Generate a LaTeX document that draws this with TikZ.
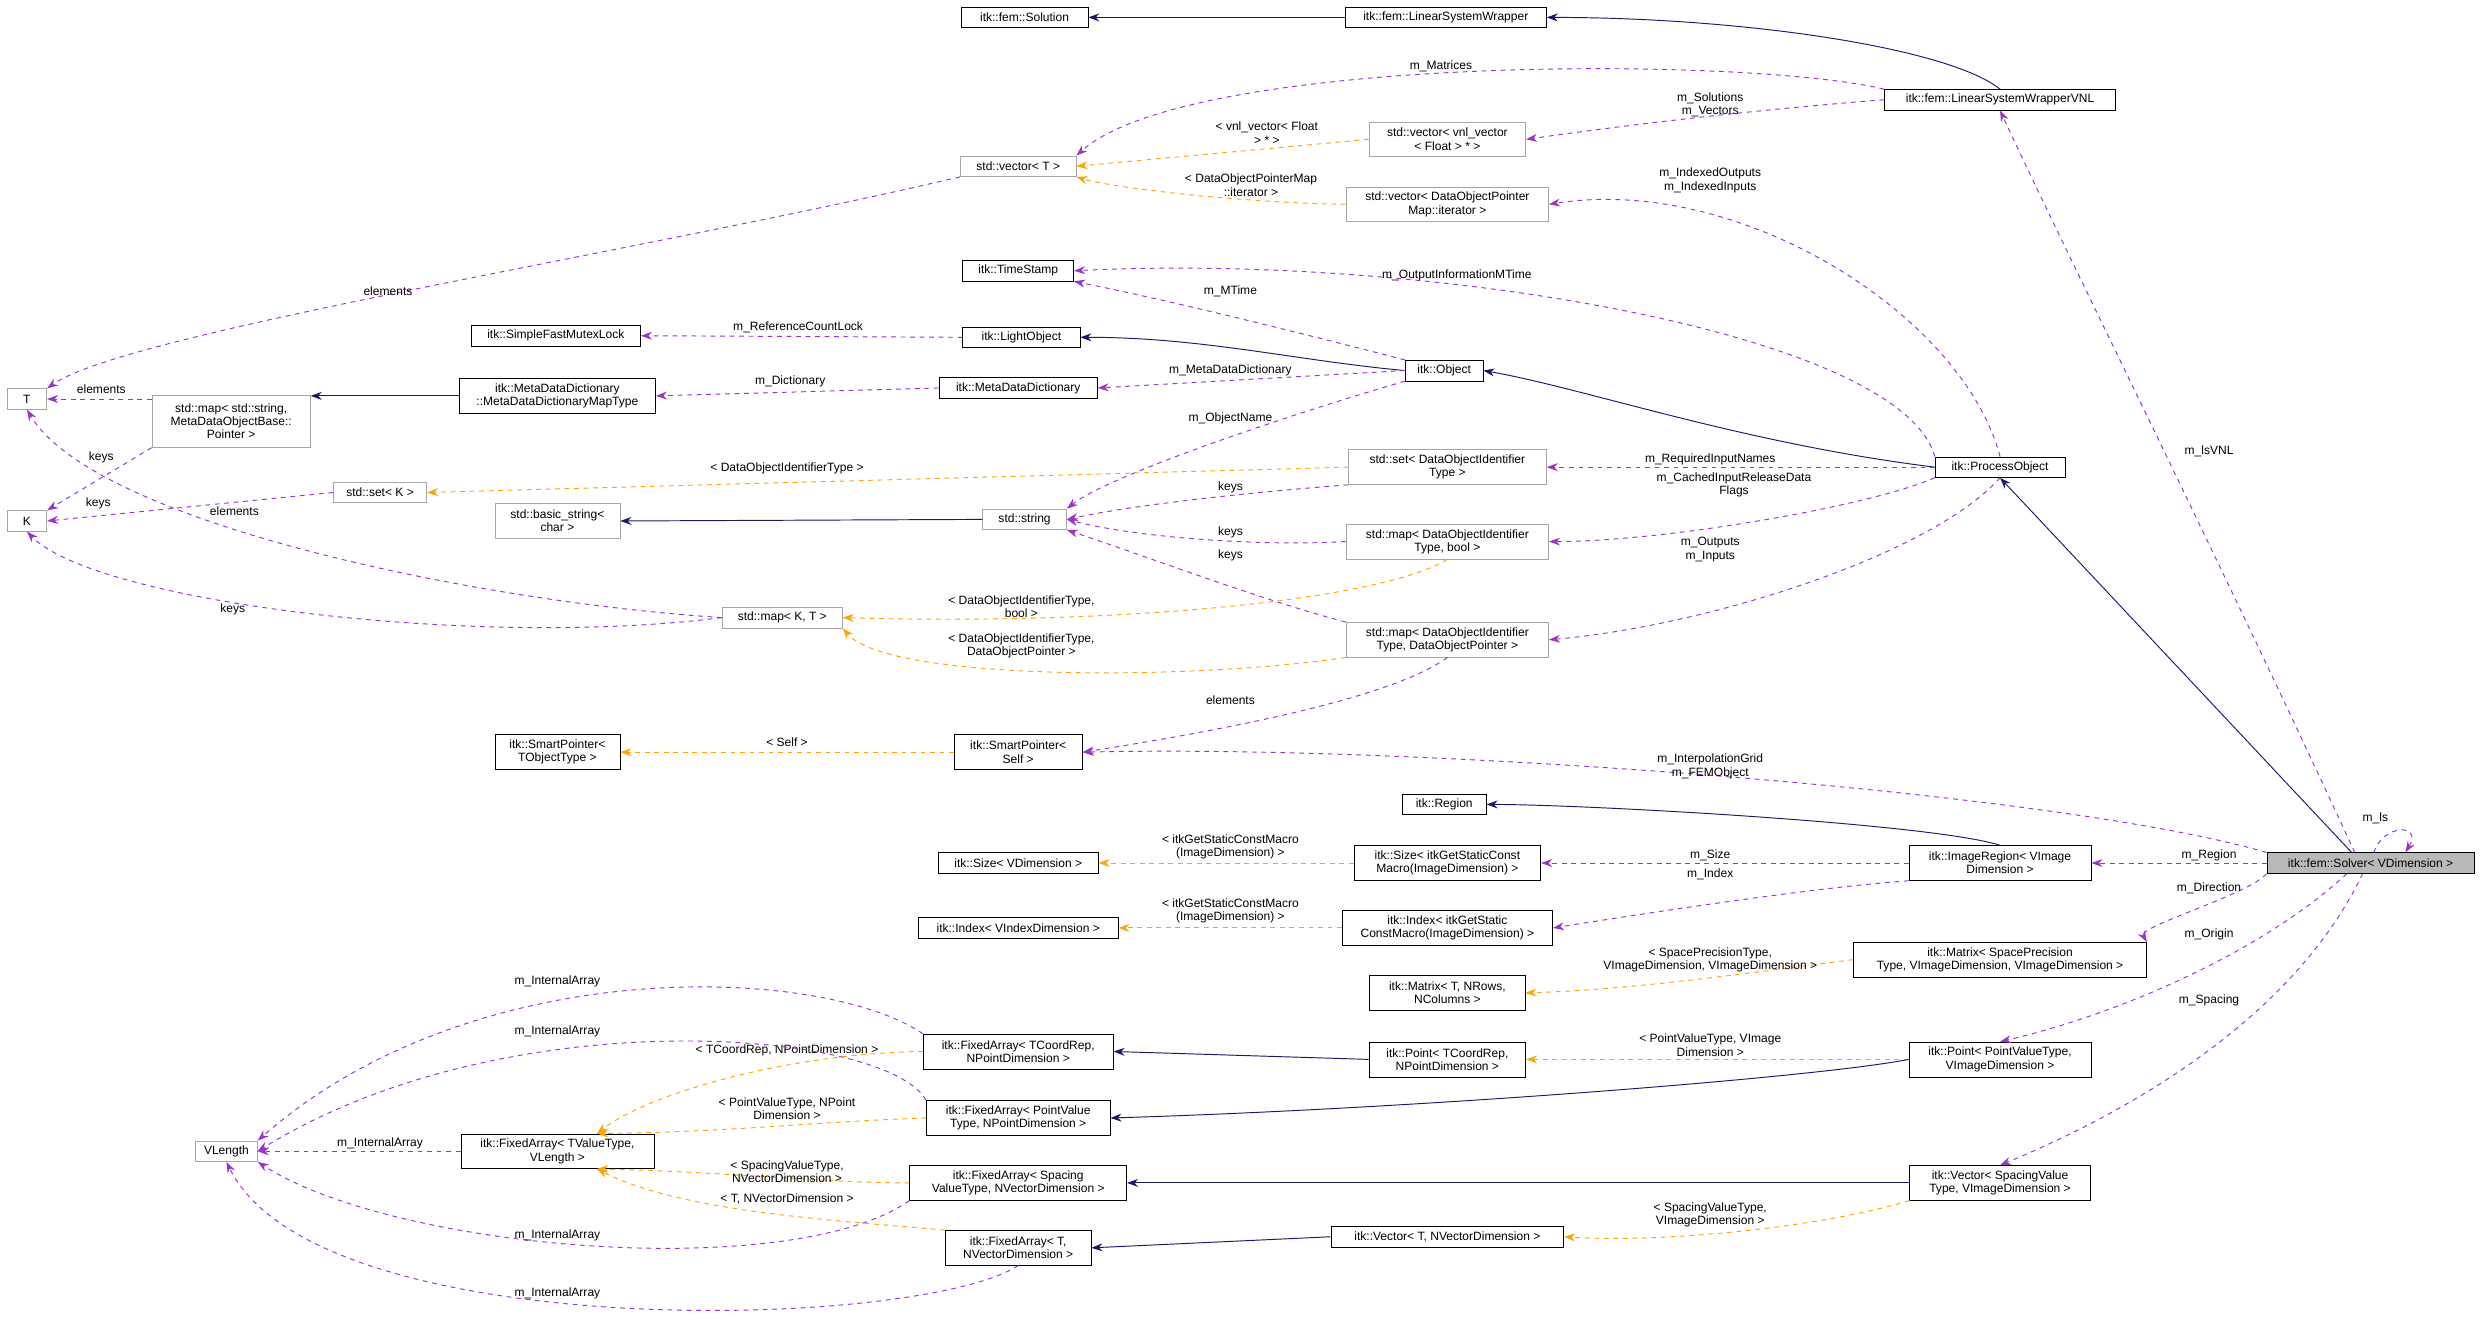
\documentclass[tikz,border=0pt]{standalone}
\usepackage{fontspec}
\setmainfont{Liberation Sans}
\usetikzlibrary{arrows.meta}
\definecolor{navy}{HTML}{191970}
\definecolor{purp}{HTML}{9A32CD}
\definecolor{orng}{HTML}{FFA500}
\begin{document}
\begin{tikzpicture}[x=1pt,y=-1pt,
 font=\fontsize{7.6}{8.4}\selectfont,
 cls/.style={draw=black,fill=white,inner sep=1.5pt,align=center,minimum height=13pt},
 ext/.style={cls,draw=gray!70},
 two/.style={minimum height=22pt},
 inh/.style={draw=navy,-{Stealth[length=7pt,width=5pt]},line width=0.6pt},
 use/.style={draw=purp,dashed,-{Stealth[length=7pt,width=5pt]},line width=0.6pt},
 tpl/.style={draw=orng,dashed,-{Stealth[length=7pt,width=5pt]},line width=0.6pt},
 lb/.style={align=center,inner sep=0pt}]
\useasboundingbox (0,0) rectangle (1568,842);
% nodes
\node[cls,minimum width=80] (sol) at (647,11) {itk::fem::Solution};
\node[cls,minimum width=127] (lsw) at (913,11) {itk::fem::LinearSystemWrapper};
\node[cls,minimum width=146] (lswv) at (1263,63) {itk::fem::LinearSystemWrapperVNL};
\node[ext,minimum width=73] (vecT) at (643,105) {std::vector< T >};
\node[ext,two,minimum width=99] (vecvnl) at (914,88) {std::vector< vnl\_vector\\< Float > * >};
\node[ext,two,minimum width=128] (vecdop) at (914,129) {std::vector< DataObjectPointer\\Map::iterator >};
\node[cls,minimum width=70] (ts) at (643,171) {itk::TimeStamp};
\node[cls,minimum width=107] (sfml) at (351,212) {itk::SimpleFastMutexLock};
\node[cls,minimum width=74] (lo) at (645,213) {itk::LightObject};
\node[ext,minimum width=25] (T) at (17,252) {T};
\node[ext,minimum width=100,minimum height=33] (mapstr) at (146,266) {std::map< std::string,\\MetaDataObjectBase::\\Pointer >};
\node[cls,two,minimum width=124] (mddmt) at (352,250) {itk::MetaDataDictionary\\::MetaDataDictionaryMapType};
\node[cls,minimum width=100] (mdd) at (643,245) {itk::MetaDataDictionary};
\node[cls,minimum width=49] (obj) at (912,234) {itk::Object};
\node[ext,two,minimum width=125] (setD) at (914,295) {std::set< DataObjectIdentifier\\Type >};
\node[cls,minimum width=82] (po) at (1263,295) {itk::ProcessObject};
\node[ext,minimum width=59] (setK) at (240,311) {std::set< K >};
\node[ext,minimum width=25] (K) at (17,329) {K};
\node[ext,two,minimum width=79] (bstr) at (352,329) {std::basic\_string<\\char >};
\node[ext,minimum width=53] (str) at (647,328) {std::string};
\node[ext,two,minimum width=128] (mapDb) at (914,342) {std::map< DataObjectIdentifier\\Type, bool >};
\node[ext,minimum width=76] (mapKT) at (494,390) {std::map< K, T >};
\node[ext,two,minimum width=128] (mapDp) at (914,404) {std::map< DataObjectIdentifier\\Type, DataObjectPointer >};
\node[cls,two,minimum width=79] (spTO) at (352,475) {itk::SmartPointer<\\TObjectType >};
\node[cls,two,minimum width=81] (spS) at (643,475) {itk::SmartPointer<\\Self >};
\node[cls,minimum width=53] (region) at (912,508) {itk::Region};
\node[cls,minimum width=101] (sizeV) at (643,545) {itk::Size< VDimension >};
\node[cls,two,minimum width=118] (sizeI) at (914,545) {itk::Size< itkGetStaticConst\\Macro(ImageDimension) >};
\node[cls,two,minimum width=115] (ir) at (1263,545) {itk::ImageRegion< VImage\\Dimension >};
\node[cls,fill=gray!55,minimum width=131] (solver) at (1497,545) {itk::fem::Solver< VDimension >};
\node[cls,minimum width=126] (indexV) at (643,586) {itk::Index< VIndexDimension >};
\node[cls,two,minimum width=133] (indexI) at (914,586) {itk::Index< itkGetStatic\\ConstMacro(ImageDimension) >};
\node[cls,two,minimum width=185] (mat) at (1263,606) {itk::Matrix< SpacePrecision\\Type, VImageDimension, VImageDimension >};
\node[cls,two,minimum width=98] (matT) at (914,627) {itk::Matrix< T, NRows,\\NColumns >};
\node[cls,two,minimum width=120] (faTC) at (643,664) {itk::FixedArray< TCoordRep,\\NPointDimension >};
\node[cls,two,minimum width=99] (ptTC) at (914,669) {itk::Point< TCoordRep,\\NPointDimension >};
\node[cls,two,minimum width=115] (ptPV) at (1263,669) {itk::Point< PointValueType,\\VImageDimension >};
\node[cls,two,minimum width=116] (faPV) at (643,706) {itk::FixedArray< PointValue\\Type, NPointDimension >};
\node[ext,minimum width=39] (VL) at (143,727) {VLength};
\node[cls,two,minimum width=122] (faTV) at (352,727) {itk::FixedArray< TValueType,\\VLength >};
\node[cls,two,minimum width=137] (faSV) at (643,747) {itk::FixedArray< Spacing\\ValueType, NVectorDimension >};
\node[cls,two,minimum width=114] (vecSV) at (1263,747) {itk::Vector< SpacingValue\\Type, VImageDimension >};
\node[cls,minimum width=147] (vecT2) at (914,781) {itk::Vector< T, NVectorDimension >};
\node[cls,two,minimum width=92] (faT) at (643,788) {itk::FixedArray< T,\\NVectorDimension >};
% edges top
\draw[inh] (lsw.west) -- (sol.east);
\draw[inh] (lswv.north) .. controls (1230,30) and (1100,11) .. (lsw.east);
\draw[use] (lswv.north west) .. controls (1100,35) and (750,35) .. (vecT.north east);
\node[lb] at (910,42) {m\_Matrices};
\draw[use] (lswv.west) .. controls (1100,70) and (1020,80) .. (vecvnl.east);
\node[lb] at (1080,66) {m\_Solutions\\m\_Vectors};
\draw[tpl] (vecvnl.west) -- (vecT.east);
\node[lb] at (800,84) {< vnl\_vector< Float\\> * >};
\draw[tpl] (vecdop.west) .. controls (780,128) and (700,118) .. (vecT.south east);
\node[lb] at (790,117) {< DataObjectPointerMap\\::iterator >};
\draw[use] (vecT.south west) .. controls (400,160) and (80,210) .. (T.north east);
\node[lb] at (245,184) {elements};
\draw[use] (po.north) .. controls (1240,200) and (1100,110) .. (vecdop.east);
\node[lb] at (1080,114) {m\_IndexedOutputs\\m\_IndexedInputs};
\draw[use] (po.north west) .. controls (1200,210) and (900,160) .. (ts.east);
\node[lb] at (920,174) {m\_OutputInformationMTime};
\draw[use] (obj.north west) .. controls (820,210) and (740,190) .. (ts.south east);
\node[lb] at (777,184) {m\_MTime};
\draw[use] (lo.west) -- (sfml.east);
\node[lb] at (504,207) {m\_ReferenceCountLock};
\draw[inh] (obj.west) .. controls (820,228) and (760,213) .. (lo.east);
\draw[use] (mdd.west) -- (mddmt.east);
\node[lb] at (499,241) {m\_Dictionary};
\draw[use] (obj.west) -- (mdd.east);
\node[lb] at (777,234) {m\_MetaDataDictionary};
\draw[inh] (po.west) .. controls (1100,280) and (1000,245) .. (obj.east);
\draw[inh] (mddmt.west) -- (mapstr.east |- mddmt.west);
\draw[use] (mapstr.west |- T.east) -- (T.east);
\node[lb] at (64,246) {elements};
\draw[use] (mapstr.south west) -- (K.north east);
\node[lb] at (64,289) {keys};
\draw[use] (setK.west) -- (K.east);
\node[lb] at (148,323) {elements};
\draw[tpl] (setD.west) -- (setK.east);
\node[lb] at (497,296) {< DataObjectIdentifierType >};
\draw[use] (obj.south west) .. controls (820,260) and (700,300) .. (str.north east);
\node[lb] at (777,264) {m\_ObjectName};
\draw[inh] (str.west) -- (bstr.east);
\draw[use] (po.west) -- (setD.east);
\node[lb] at (1080,290) {m\_RequiredInputNames};
\draw[use] (setD.south west) .. controls (800,310) and (720,318) .. (str.east);
\node[lb] at (777,308) {keys};
\draw[use] (po.south west) .. controls (1180,320) and (1050,342) .. (mapDb.east);
\node[lb] at (1095,306) {m\_CachedInputReleaseData\\Flags};
\draw[use] (mapDb.west) .. controls (800,345) and (720,340) .. (str.east);
\node[lb] at (777,336) {keys};
\draw[use] (mapDp.north west) .. controls (800,380) and (720,350) .. (str.south east);
\node[lb] at (777,351) {keys};
\draw[use] (mapKT.west) .. controls (300,380) and (60,330) .. (T.south);
\node[lb] at (62,318) {keys};
\draw[use] (mapKT.west) .. controls (300,410) and (60,380) .. (K.south);
\node[lb] at (147,385) {keys};
\draw[tpl] (mapDb.south) .. controls (870,380) and (700,395) .. (mapKT.east);
\node[lb] at (645,383) {< DataObjectIdentifierType,\\bool >};
\draw[tpl] (mapDp.south west) .. controls (750,430) and (560,430) .. (mapKT.south east);
\node[lb] at (645,408) {< DataObjectIdentifierType,\\DataObjectPointer >};
\draw[use] (po.south) .. controls (1220,350) and (1080,395) .. (mapDp.east);
\node[lb] at (1080,347) {m\_Outputs\\m\_Inputs};
\draw[use] (mapDp.south) .. controls (880,440) and (780,460) .. (spS.east);
\node[lb] at (777,442) {elements};
\draw[tpl] (spS.west) -- (spTO.east);
\node[lb] at (497,469) {< Self >};
\draw[use] (solver.north west) .. controls (1300,500) and (900,470) .. (spS.east);
\node[lb] at (1080,484) {m\_InterpolationGrid\\m\_FEMObject};
\draw[use] ([xshift=-10pt]solver.north) .. controls (1400,350) and (1300,150) .. (lswv.south);
\node[lb] at (1395,285) {m\_lsVNL};
\draw[use] ([xshift=2pt]solver.north) .. controls (1505,520) and (1530,520) .. ([xshift=22pt]solver.north);
\node[lb] at (1500,517) {m\_ls};
\draw[inh] ([xshift=-12pt]solver.north) -- (po.south);
\draw[use] (solver.west) -- (ir.east);
\node[lb] at (1395,540) {m\_Region};
\draw[inh] (ir.north) .. controls (1220,520) and (1000,508) .. (region.east);
\draw[use] (ir.west) -- (sizeI.east);
\node[lb] at (1080,540) {m\_Size};
\draw[use] (ir.south west) .. controls (1150,560) and (1050,575) .. (indexI.east);
\node[lb] at (1080,552) {m\_Index};
\draw[tpl] (sizeI.west) -- (sizeV.east);
\node[lb] at (777,535) {< itkGetStaticConstMacro\\(ImageDimension) >};
\draw[tpl] (indexI.west) -- (indexV.east);
\node[lb] at (777,575) {< itkGetStaticConstMacro\\(ImageDimension) >};
\draw[use] (solver.south west) .. controls (1420,565) and (1350,585) .. (mat.north east);
\node[lb] at (1395,561) {m\_Direction};
\draw[tpl] (mat.west) .. controls (1100,615) and (1030,625) .. (matT.east);
\node[lb] at (1080,606) {< SpacePrecisionType,\\VImageDimension, VImageDimension >};
\draw[use] ([xshift=-15pt]solver.south) .. controls (1430,600) and (1340,640) .. (ptPV.north);
\node[lb] at (1395,590) {m\_Origin};
\draw[use] ([xshift=-5pt]solver.south) .. controls (1450,640) and (1350,700) .. (vecSV.north);
\node[lb] at (1395,632) {m\_Spacing};
\draw[tpl] (ptPV.west) -- (ptTC.east);
\node[lb] at (1080,660) {< PointValueType, VImage\\Dimension >};
\draw[inh] (ptTC.west) -- (faTC.east);
\draw[inh] (ptPV.west) .. controls (1150,680) and (900,700) .. (faPV.east);
\draw[inh] (vecSV.west) -- (faSV.east);
\draw[tpl] (vecSV.south west) .. controls (1150,775) and (1050,785) .. (vecT2.east);
\node[lb] at (1080,767) {< SpacingValueType,\\VImageDimension >};
\draw[inh] (vecT2.west) -- (faT.east);
\draw[tpl] (faTC.west) .. controls (500,665) and (410,690) .. ([xshift=25pt]faTV.north);
\node[lb] at (497,663) {< TCoordRep, NPointDimension >};
\draw[tpl] (faPV.west) .. controls (520,708) and (460,715) .. ([xshift=25pt]faTV.north);
\node[lb] at (497,700) {< PointValueType, NPoint\\Dimension >};
\draw[tpl] (faSV.west) .. controls (520,747) and (460,740) .. ([xshift=25pt]faTV.south);
\node[lb] at (497,740) {< SpacingValueType,\\NVectorDimension >};
\draw[tpl] (faT.north west) .. controls (520,770) and (430,765) .. ([xshift=25pt]faTV.south);
\node[lb] at (497,757) {< T, NVectorDimension >};
\draw[use] (faTV.west) -- (VL.east);
\node[lb] at (240,722) {m\_InternalArray};
\draw[use] (faTC.north west) .. controls (520,610) and (300,600) .. (VL.north east);
\node[lb] at (352,620) {m\_InternalArray};
\draw[use] (faPV.north west) .. controls (560,650) and (320,630) .. (VL.east);
\node[lb] at (352,651) {m\_InternalArray};
\draw[use] (faSV.south west) .. controls (500,810) and (250,790) .. (VL.south east);
\node[lb] at (352,780) {m\_InternalArray};
\draw[use] (faT.south) .. controls (580,840) and (200,850) .. (VL.south);
\node[lb] at (352,817) {m\_InternalArray};
\end{tikzpicture}
\end{document}
